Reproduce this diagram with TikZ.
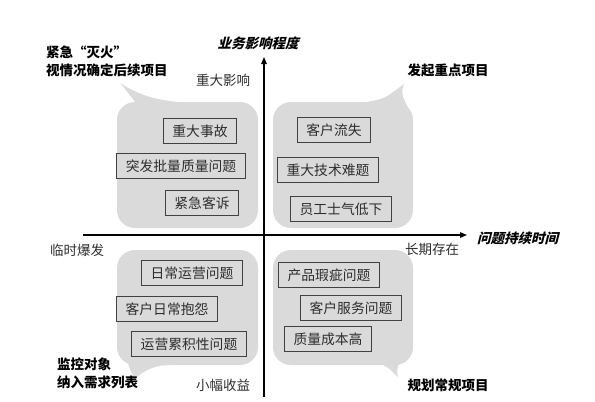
\documentclass[tikz,border=0pt]{standalone}
\usepackage{fontspec}
\setmainfont{Noto Sans CJK SC}
\newfontfamily\slantfont[FakeSlant=0.25]{Noto Sans CJK SC}
\usetikzlibrary{arrows.meta}
\definecolor{quadgray}{RGB}{218,218,218}
\definecolor{boxline}{RGB}{65,65,65}
\definecolor{labelgray}{RGB}{45,45,45}

\begin{document}
\begin{tikzpicture}[x=1pt,y=-1pt,
  issue/.style={draw=boxline,fill=quadgray,line width=1pt,inner xsep=9pt,inner ysep=0pt,minimum height=25pt,font=\fontsize{13.8}{16}\selectfont,text=labelgray},
  bubble/.style={fill=quadgray,rounded corners=18pt},
  pole/.style={font=\fontsize{13.5}{16}\selectfont,text=labelgray},
  advice/.style={font=\fontsize{13.5}{18}\selectfont\bfseries,align=left,inner sep=0pt},
  axislabel/.style={font=\fontsize{13.5}{16}\selectfont\slantfont\bfseries,inner sep=0pt},
  axisline/.style={line width=1.2pt,-{Triangle[length=7pt,width=5.5pt]}}]
  \useasboundingbox (0,0) rectangle (595,402);
  % quadrant bubbles with their tails
  \fill[bubble] (117,102) rectangle (258,228);
  \fill[quadgray] (140,110) .. controls (134,100) .. (120,83) .. controls (140,96) and (158,100) .. (178,102) -- (178,110) -- cycle;
  \fill[bubble] (273,102) rectangle (413,228);
  \fill[quadgray] (366,110) -- (366,102) .. controls (384,99) .. (404,84) .. controls (401,93) .. (410,112) -- cycle;
  \fill[bubble] (117,250) rectangle (258,365);
  \fill[quadgray] (128,355) -- (128,363) .. controls (130,370) .. (135,379) .. controls (146,368) and (158,365) .. (172,365) -- (172,355) -- cycle;
  \fill[bubble] (273,250) rectangle (413,365);
  \fill[quadgray] (380,355) -- (383,365) .. controls (390,369) .. (398,377) .. controls (396,366) .. (411,350) -- cycle;
  % axes
  \coordinate (ybot) at (264,397); \coordinate (ytop) at (264,57);
  \coordinate (xleft) at (83,235); \coordinate (xright) at (467,235);
  \draw[axisline] (ybot) -- (ytop);
  \draw[axisline] (xleft) -- (xright);
  \node[axislabel] (impact) at (258,43) {业务影响程度};
  \node[axislabel,anchor=west] (duration) at (477,238) {问题持续时间};
  \node[pole] (high) at (223,80) {重大影响};
  \node[pole] (low) at (223,385) {小幅收益};
  \node[pole] (burst) at (77,250) {临时爆发};
  \node[pole] (lasting) at (432,249) {长期存在};
  % quadrant advice
  \node[advice,anchor=north west] (firefight) at (46,46) {紧急“灭火”\\视情况确定后续项目};
  \node[advice] (keyproj) at (448,70) {发起重点项目};
  \node[advice,anchor=north west] (monitor) at (57,358) {监控对象\\纳入需求列表};
  \node[advice] (routine) at (448,385) {规划常规项目};
  % issues
  \node[issue] (accident) at (200,131) {重大事故};
  \node[issue] (batch) at (181,166) {突发批量质量问题};
  \node[issue] (complaint) at (202,203) {紧急客诉};
  \node[issue] (churn) at (334,130) {客户流失};
  \node[issue] (techhard) at (328,170) {重大技术难题};
  \node[issue] (morale) at (341,209) {员工士气低下};
  \node[issue] (dailyops) at (192,273) {日常运营问题};
  \node[issue] (grumble) at (167,309) {客户日常抱怨};
  \node[issue] (opsaccum) at (189,344) {运营累积性问题};
  \node[issue] (defect) at (329,275) {产品瑕疵问题};
  \node[issue] (service) at (351,308) {客户服务问题};
  \node[issue] (qcost) at (328,339) {质量成本高};
\end{tikzpicture}
\end{document}
